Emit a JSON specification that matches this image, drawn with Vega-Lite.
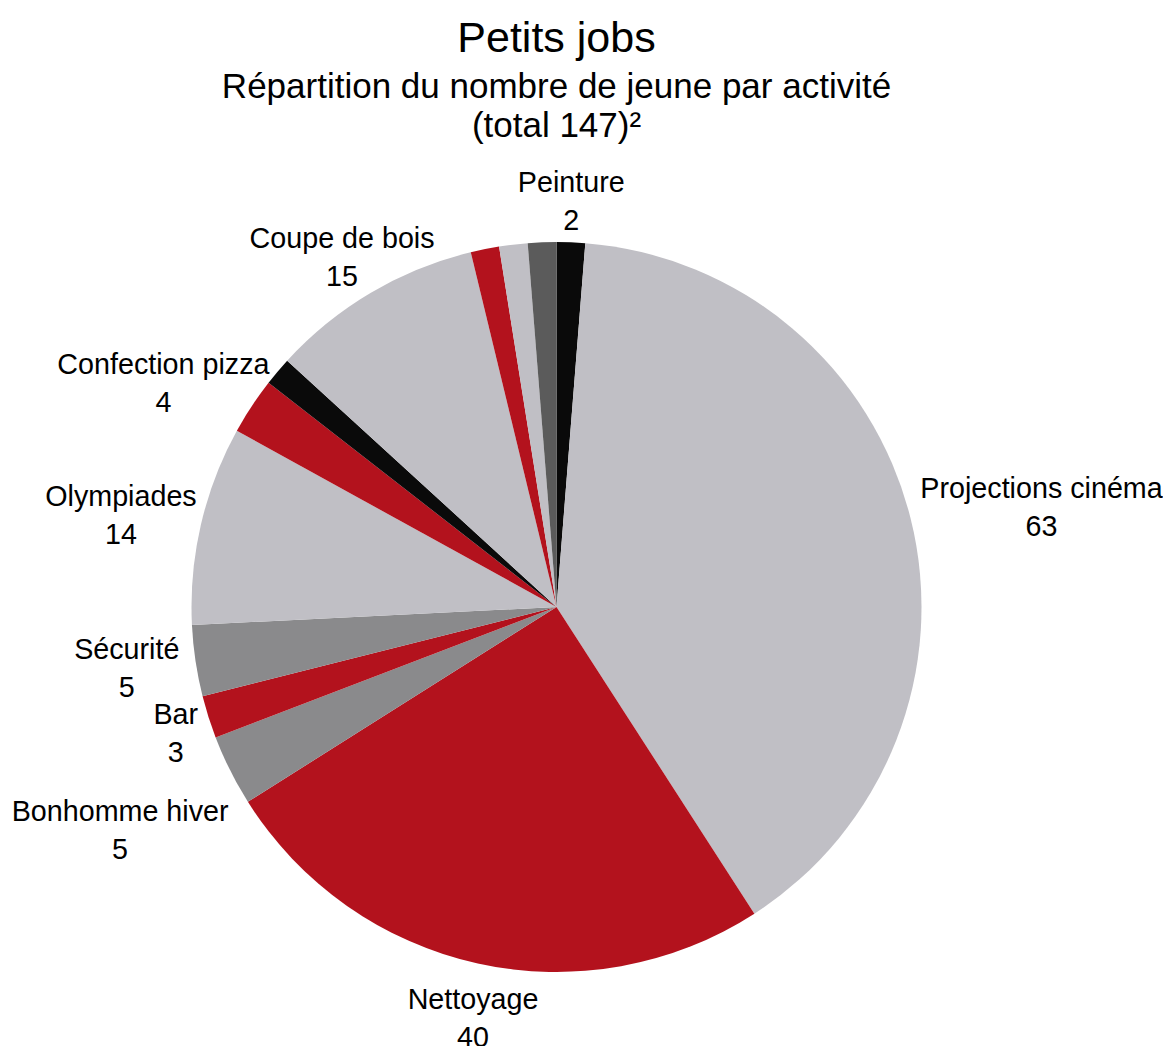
{
  "$schema": "https://vega.github.io/schema/vega-lite/v6.json",
  "width": 1113,
  "height": 834,
  "autosize": "none",
  "padding": {"left": 0, "top": 190, "right": 50, "bottom": 22},
  "background": "white",
  "title": {
    "text": "Petits jobs",
    "subtitle": ["Répartition du nombre de jeune par activité", "(total 147)²"],
    "anchor": "middle",
    "frame": "group",
    "orient": "top",
    "offset": 25,
    "font": "Liberation Sans",
    "fontSize": 43,
    "fontWeight": "normal",
    "color": "#000000",
    "subtitleFont": "Liberation Sans",
    "subtitleFontSize": 35,
    "subtitleColor": "#000000",
    "subtitlePadding": 9,
    "subtitleLineHeight": 39
  },
  "data": {
    "values": [
      {"ordre": 1, "activite": "Peinture", "n": 2},
      {"ordre": 2, "activite": "Projections cinéma", "n": 63},
      {"ordre": 3, "activite": "Nettoyage", "n": 40},
      {"ordre": 4, "activite": "Bonhomme hiver", "n": 5},
      {"ordre": 5, "activite": "Bar", "n": 3},
      {"ordre": 6, "activite": "Sécurité", "n": 5},
      {"ordre": 7, "activite": "Olympiades", "n": 14},
      {"ordre": 8, "activite": "Confection pizza", "n": 4},
      {"ordre": 9, "activite": "", "n": 2},
      {"ordre": 10, "activite": "Coupe de bois", "n": 15},
      {"ordre": 11, "activite": "", "n": 2},
      {"ordre": 12, "activite": "", "n": 2},
      {"ordre": 13, "activite": "", "n": 2}
    ]
  },
  "transform": [
    {"stack": "n", "groupby": [], "sort": [{"field": "ordre", "order": "ascending"}], "as": ["a0", "a1"]},
    {"joinaggregate": [{"op": "sum", "field": "n", "as": "total"}]},
    {"calculate": "(datum.a0 + datum.a1) / 2", "as": "mid"},
    {"calculate": "datum.activite ? [datum.activite, '' + datum.n] : ''", "as": "etiquette"}
  ],
  "layer": [
    {
      "mark": {"type": "arc", "outerRadius": 365, "stroke": null},
      "encoding": {
        "theta": {"field": "a0", "type": "quantitative", "scale": {"domain": [0, 159]}},
        "theta2": {"field": "a1"},
        "color": {
          "field": "ordre",
          "type": "nominal",
          "scale": {
            "domain": [1, 2, 3, 4, 5, 6, 7, 8, 9, 10, 11, 12, 13],
            "range": ["#0a0a0a", "#c0bfc5", "#b3121d", "#8a8a8c", "#b3121d", "#8a8a8c", "#c0bfc5", "#b3121d", "#0a0a0a", "#c0bfc5", "#b3121d", "#c0bfc5", "#5b5b5b"]
          },
          "legend": null
        }
      }
    },
    {
      "mark": {
        "type": "text",
        "radius": 372,
        "font": "Liberation Sans",
        "fontSize": 28.7,
        "lineHeight": 38,
        "color": "#000000",
        "align": "center",
        "baseline": "middle",
        "dx": {"expr": "(sin(2 * PI * datum.mid / datum.total) < 0 ? -1 : 1) * pow(sin(2 * PI * datum.mid / datum.total), 2) * (length(datum.activite) * 6.9 + 8) - (cos(2 * PI * datum.mid / datum.total) < 0 ? 400 * max(0, abs(sin(2 * PI * datum.mid / datum.total) * cos(2 * PI * datum.mid / datum.total)) - 0.35) : 0)"},
        "dy": {"expr": "(cos(2 * PI * datum.mid / datum.total) > 0 ? -33 : -50) * cos(2 * PI * datum.mid / datum.total) - 19 + (cos(2 * PI * datum.mid / datum.total) < 0 ? 700 * max(0, abs(sin(2 * PI * datum.mid / datum.total) * cos(2 * PI * datum.mid / datum.total)) - 0.35) : 0)"}
      },
      "encoding": {
        "theta": {"field": "mid", "type": "quantitative"},
        "text": {"field": "etiquette", "type": "nominal"}
      }
    }
  ],
  "config": {"view": {"stroke": null}}
}
